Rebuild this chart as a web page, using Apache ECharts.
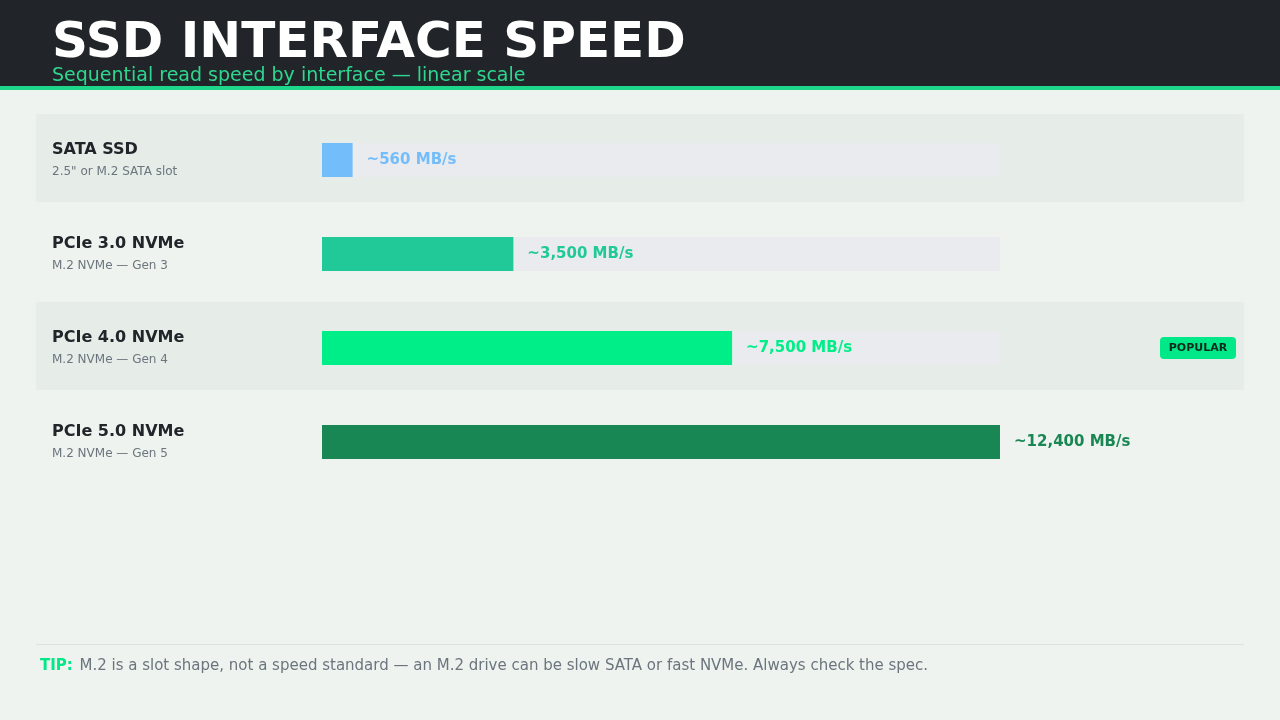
<!DOCTYPE html>
<html><head><meta charset="utf-8">
<script src="https://cdn.jsdelivr.net/npm/echarts@6/dist/echarts.min.js"></script>
<style>html,body{margin:0;padding:0;background:#eef3ef}#c{width:1280px;height:720px}</style>
</head><body><div id="c"></div>
<script>
const categories = ['SATA SSD','PCIe 3.0 NVMe','PCIe 4.0 NVMe','PCIe 5.0 NVMe'];
const subtitles = ['2.5" or M.2 SATA slot','M.2 NVMe — Gen 3','M.2 NVMe — Gen 4','M.2 NVMe — Gen 5'];
const speeds = [560, 3500, 7500, 12400];
const speedLabels = ['~560 MB/s','~3,500 MB/s','~7,500 MB/s','~12,400 MB/s'];
const colors = ['#74bdfb','#20c997','#00ee88','#198754'];
const trackMax = 12400;
const F = 'DejaVu Sans, sans-serif';
const chart = echarts.init(document.getElementById('c'));
chart.setOption({
  backgroundColor:'#eef3ef',
  animation:false,
  grid:{left:322, width:678, top:113, height:376},
  xAxis:{type:'value', min:0, max:trackMax, show:false},
  yAxis:{type:'category', data:categories, inverse:true,
    axisLine:{show:false}, axisTick:{show:false},
    axisLabel:{margin:270, align:'left', fontFamily:F,
      formatter:(v,i)=>'{a|'+v+'}\n{b|'+subtitles[i]+'}',
      rich:{a:{fontSize:16,fontWeight:'bold',color:'#212529',lineHeight:24,fontFamily:F},
            b:{fontSize:12,color:'#6c757d',lineHeight:20,fontFamily:F}}}},
  series:[
    {type:'bar', data:categories.map(()=>trackMax), barWidth:34, barGap:'-100%', silent:true,
     itemStyle:{color:'#e9ebee'}, z:1},
    {type:'bar', data:speeds.map((v,i)=>({value:v,itemStyle:{color:colors[i]},
      label:{color:i===0?'#74bdfb':colors[i]}})), barWidth:34, z:2,
     label:{show:true, position:'right', distance:14, fontFamily:F, fontSize:15, fontWeight:'bold',
       formatter:p=>speedLabels[p.dataIndex]}}
  ],
  graphic:[
    {type:'rect', z:-10, shape:{x:36,y:114,width:1208,height:88}, style:{fill:'#e6ece8'}},
    {type:'rect', z:-10, shape:{x:36,y:302,width:1208,height:88}, style:{fill:'#e6ece8'}},
    {type:'rect', shape:{x:0,y:0,width:1280,height:86}, style:{fill:'#212529'}},
    {type:'rect', shape:{x:0,y:86,width:1280,height:4}, style:{fill:'#1ed68a'}},
    {type:'text', x:52, y:44, style:{text:'SSD INTERFACE SPEED', fill:'#ffffff', font:'bold 50px '+F, verticalAlign:'middle'}},
    {type:'text', x:52, y:76, style:{text:'Sequential read speed by interface — linear scale', fill:'#2ed68f', font:'19px '+F, verticalAlign:'middle'}},
    {type:'rect', shape:{x:1160,y:337,width:76,height:22,r:4}, style:{fill:'#00e887'}},
    {type:'text', x:1198, y:348, style:{text:'POPULAR', fill:'#0d2a1c', font:'bold 11px '+F, align:'center', verticalAlign:'middle'}},
    {type:'rect', shape:{x:36,y:644,width:1208,height:1}, style:{fill:'#dde2df'}},
    {type:'text', x:40, y:666, style:{text:'{t|TIP:}  {m|M.2 is a slot shape, not a speed standard — an M.2 drive can be slow SATA or fast NVMe. Always check the spec.}', verticalAlign:'middle',
      rich:{t:{fill:'#00e887', font:'bold 15px '+F}, m:{fill:'#6c757d', font:'15px '+F}}}}
  ]
});
</script></body></html>
